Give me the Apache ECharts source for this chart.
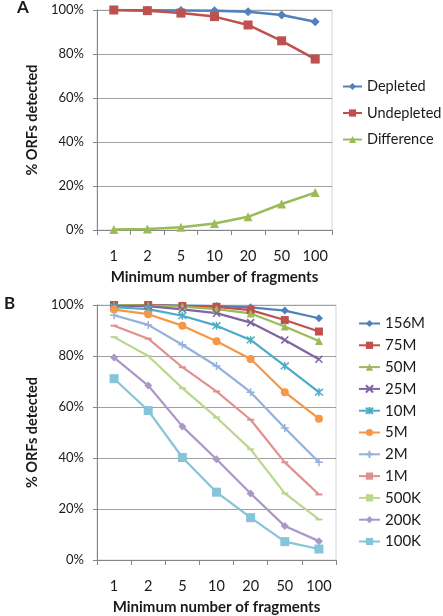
<!DOCTYPE html>
<html>
<head>
<meta charset="utf-8">
<script src="https://cdn.jsdelivr.net/npm/echarts@6/dist/echarts.min.js"></script>
<style>
html,body{margin:0;padding:0;background:#fff;}
#c{width:443px;height:616px;}
</style>
</head>
<body>
<div id="c"></div>
<script>
// ---- data ----
const categories = ['1', '2', '5', '10', '20', '50', '100'];
const yTicksMax = 100;

// Panel A
const depleted   = [100, 99.9, 99.8, 99.7, 99.2, 97.7, 94.7];
const undepleted = [100, 99.7, 98.6, 97.0, 93.2, 86.0, 77.7];
const difference = [0.2, 0.4, 1.3, 3.0, 6.0, 11.8, 17.0];
const panelANames = ['Depleted', 'Undepleted', 'Difference'];

// Panel B
const s156M = [100, 100, 99.8, 99.6, 99.1, 97.8, 94.8];
const s75M  = [100, 100, 99.6, 99.3, 98.0, 94.1, 89.6];
const s50M  = [100, 99.8, 99.4, 98.4, 96.7, 91.6, 85.9];
const s25M  = [99.7, 99.5, 98.3, 96.8, 93.1, 86.3, 78.7];
const s10M  = [99.2, 98.4, 95.8, 91.9, 86.3, 76.1, 65.8];
const s5M   = [98.2, 96.4, 91.9, 85.8, 78.8, 65.8, 55.4];
const s2M   = [96.0, 92.2, 84.4, 76.1, 65.8, 51.8, 38.3];
const s1M   = [91.9, 86.8, 75.6, 66.1, 55.0, 38.3, 25.7];
const s500K = [87.4, 80.0, 67.4, 55.9, 43.4, 26.1, 15.9];
const s200K = [79.4, 68.4, 52.4, 39.5, 26.1, 13.3, 7.4];
const s100K = [71.1, 58.6, 40.2, 26.6, 16.6, 7.2, 4.3];
const panelBNames = ['156M', '75M', '50M', '25M', '10M', '5M', '2M', '1M', '500K', '200K', '100K'];
const panelBData = [s156M, s75M, s50M, s25M, s10M, s5M, s2M, s1M, s500K, s200K, s100K];

// ---- styles ----
const FONT = 'Lato';
const TXT = '#1a1a1a';
const symX = 'path://M0,0 L10,10 M10,0 L0,10';
const symAst = 'path://M0,0 L10,10 M10,0 L0,10 M5,-1 L5,11';
const symPlus = 'path://M0,5 L10,5 M5,0 L5,10';

const bStyles = [
  {color:'#4F81BD', symbol:'diamond', size:8},
  {color:'#C0504D', symbol:'rect', size:8},
  {color:'#9BBB59', symbol:'triangle', size:8},
  {color:'#8064A2', symbol:symX, size:7, stroke:true},
  {color:'#4BACC6', symbol:symAst, size:8, stroke:true},
  {color:'#F79646', symbol:'circle', size:8},
  {color:'#95B0DB', symbol:symPlus, size:8, stroke:true},
  {color:'#E0918F', symbol:'rect', size:[7,2]},
  {color:'#BCD68F', symbol:'rect', size:[7,2]},
  {color:'#AA98C8', symbol:'diamond', size:8},
  {color:'#85C4D9', symbol:'rect', size:9}
];
const aStyles = [
  {color:'#4F81BD', symbol:'diamond', size:9},
  {color:'#C0504D', symbol:'rect', size:9},
  {color:'#9BBB59', symbol:'triangle', size:9}
];

function yAxis(gridIndex){
  return {
    type:'value', gridIndex, min:0, max:yTicksMax, interval:20,
    name:'% ORFs detected', nameLocation:'middle', nameGap:52,
    nameTextStyle:{fontFamily:FONT, fontWeight:'bold', fontSize:14.5, color:TXT},
    axisLine:{show:true, lineStyle:{color:'#868686', width:1}},
    axisTick:{show:true, length:4, lineStyle:{color:'#868686'}},
    axisLabel:{formatter:'{value}%', fontFamily:FONT, fontSize:13, color:TXT, margin:13},
    splitLine:{show:true, lineStyle:{color:'#A0A0A0', width:1}}
  };
}
function xAxis(gridIndex){
  return {
    type:'category', gridIndex, data:categories, boundaryGap:true,
    name:'Minimum number of fragments', nameLocation:'middle', nameGap:40,
    nameTextStyle:{fontFamily:FONT, fontWeight:'bold', fontSize:15, color:TXT},
    axisLine:{show:true, lineStyle:{color:'#868686', width:1}},
    axisTick:{show:true, length:5, alignWithLabel:false, lineStyle:{color:'#868686'}},
    axisLabel:{fontFamily:FONT, fontSize:14.5, color:TXT, margin:19},
    splitLine:{show:false}
  };
}
function mkSeries(name, data, st, idx, lw){
  const s = {
    name, type:'line', data, xAxisIndex:idx, yAxisIndex:idx,
    symbol:st.symbol, symbolSize:st.size, showSymbol:true,
    lineStyle:{color:st.color, width:lw},
    itemStyle:{color:st.color},
    emphasis:{disabled:true}, animation:false, z:3
  };
  if (st.stroke){ s.itemStyle = {color:st.color, borderColor:st.color, borderWidth:1.5}; }
  return s;
}

const series = [];
[depleted, undepleted, difference].forEach((d,i)=>series.push(mkSeries(panelANames[i], d, aStyles[i], 0, 2.5)));
panelBData.forEach((d,i)=>series.push(mkSeries(panelBNames[i], d, bStyles[i], 1, 2.2)));

const chart = echarts.init(document.getElementById('c'), null, {renderer:'canvas'});
chart.setOption({
  backgroundColor:'#fff',
  animation:false,
  title:[
    {text:'A', left:12, top:-6, textStyle:{fontFamily:FONT, fontWeight:'bold', fontSize:17, color:TXT}},
    {text:'B', left:-1, top:290, textStyle:{fontFamily:FONT, fontWeight:'bold', fontSize:17, color:TXT}}
  ],
  grid:[
    {left:97, top:10, width:235, height:220, show:true, borderColor:'#D4D4D4', borderWidth:1},
    {left:97, top:305, width:239, height:256, show:true, borderColor:'#D4D4D4', borderWidth:1}
  ],
  xAxis:[xAxis(0), xAxis(1)],
  yAxis:[yAxis(0), yAxis(1)],
  legend:[
    {data:panelANames, orient:'vertical', left:342, top:79, padding:0, itemGap:11.5, itemWidth:19, itemHeight:9,
     textStyle:{fontFamily:FONT, fontSize:14.5, lineHeight:15, color:TXT}, selectedMode:false},
    {data:panelBNames, orient:'vertical', left:358, top:316, padding:0, itemGap:6.8, itemWidth:21, itemHeight:9,
     textStyle:{fontFamily:FONT, fontSize:15, lineHeight:15, color:TXT}, selectedMode:false}
  ],
  series
});
</script>
</body>
</html>
